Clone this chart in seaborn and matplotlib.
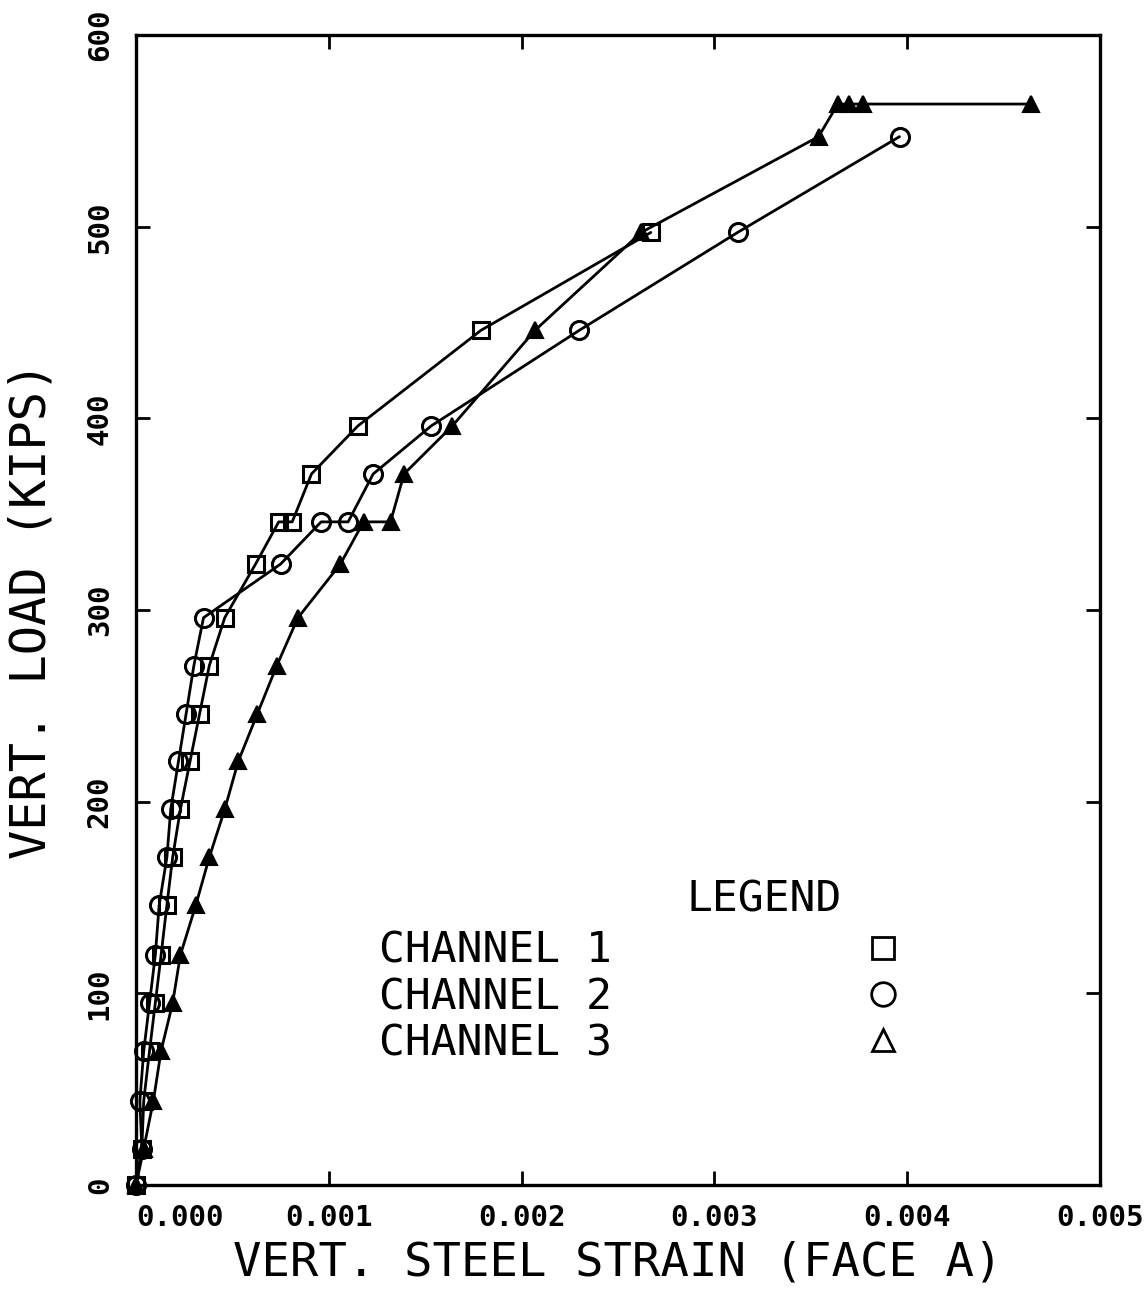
import numpy as np
import pandas as pd
import matplotlib
matplotlib.use("Agg")
import matplotlib.pyplot as plt
import seaborn as sns
from matplotlib.lines import Line2D

# ---- data (strain, load in kips) ----
ch1_strain = [0.0, 0.00003, 0.00004, 0.00007, 0.00010, 0.00013, 0.00016, 0.00019,
              0.00023, 0.00028, 0.00033, 0.00038, 0.00046, 0.00062, 0.00074,
              0.00081, 0.00091, 0.00115, 0.00179, 0.00267]
ch1_load = [0, 19, 44, 70, 95, 120, 146, 171, 196, 221, 246, 271, 296, 324, 346,
            346, 371, 396, 446, 497]

ch2_strain = [0.0, 0.00003, 0.00002, 0.00004, 0.00007, 0.00010, 0.00012, 0.00016,
              0.00018, 0.00022, 0.00026, 0.00030, 0.00035, 0.00075, 0.00096,
              0.00110, 0.00123, 0.00153, 0.00230, 0.00312, 0.00396]
ch2_load = [0, 19, 44, 70, 95, 120, 146, 171, 196, 221, 246, 271, 296, 324, 346,
            346, 371, 396, 446, 497, 547]

ch3_strain = [0.0, 0.00004, 0.00009, 0.00013, 0.00019, 0.00023, 0.00031, 0.00038,
              0.00046, 0.00053, 0.00063, 0.00073, 0.00084, 0.00106, 0.00118,
              0.00132, 0.00139, 0.00164, 0.00207, 0.00262, 0.00354, 0.00364,
              0.00370, 0.00377, 0.00464]
ch3_load = [0, 19, 44, 70, 95, 120, 146, 171, 196, 221, 246, 271, 296, 324, 346,
            346, 371, 396, 446, 497, 547, 564, 564, 564, 564]

channel_names = ["CHANNEL 1", "CHANNEL 2", "CHANNEL 3"]
x_ticks = [0.0, 0.001, 0.002, 0.003, 0.004, 0.005]
x_ticklabels = ["0.000", "0.001", "0.002", "0.003", "0.004", "0.005"]
y_ticks = [0, 100, 200, 300, 400, 500, 600]

df1 = pd.DataFrame({"strain": ch1_strain, "load": ch1_load})
df2 = pd.DataFrame({"strain": ch2_strain, "load": ch2_load})
df3 = pd.DataFrame({"strain": ch3_strain, "load": ch3_load})

sns.set_style("ticks")
plt.rcParams["font.family"] = ["DejaVu Sans Mono", "DejaVu Sans"]
plt.rcParams["text.color"] = "black"
plt.rcParams["axes.labelcolor"] = "black"
plt.rcParams["xtick.color"] = "black"
plt.rcParams["ytick.color"] = "black"

fig = plt.figure(figsize=(11.46, 12.93), dpi=100)
ax = fig.add_axes([0.1187, 0.0835, 0.8412, 0.8894])

lw = 2.0
sns.lineplot(data=df1, x="strain", y="load", ax=ax, estimator=None, sort=False,
             color="black", lw=lw, marker="s", markersize=12, mfc="none",
             mec="black", mew=2.2, clip_on=False)
sns.lineplot(data=df2, x="strain", y="load", ax=ax, estimator=None, sort=False,
             color="black", lw=lw, marker="o", markersize=13, mfc="none",
             mec="black", mew=2.2, clip_on=False)
sns.lineplot(data=df3, x="strain", y="load", ax=ax, estimator=None, sort=False,
             color="black", lw=lw, marker="^", markersize=12, mfc="black",
             mec="black", mew=1.5, clip_on=False)

ax.set_xlim(0, 0.005)
ax.set_ylim(0, 600)
ax.set_xticks(x_ticks)
ax.set_xticklabels(x_ticklabels, fontsize=21, fontweight="bold")
ax.set_yticks(y_ticks)
ax.set_yticklabels([str(v) for v in y_ticks], fontsize=21, fontweight="bold",
                   rotation=90, va="center")
ax.get_xticklabels()[0].set_ha("left")

ax.tick_params(axis="both", direction="in", length=10, width=2,
               top=True, right=True, colors="black")
ax.tick_params(axis="x", pad=14)
ax.tick_params(axis="y", pad=16)
for s in ax.spines.values():
    s.set_linewidth(2.4)
    s.set_color("black")

ax.set_xlabel("VERT. STEEL STRAIN (FACE A)", fontsize=34, labelpad=6)
ax.set_ylabel("VERT. LOAD (KIPS)", fontsize=35, labelpad=22)

# legend: text on the left, symbols on the right
handles = [
    Line2D([], [], ls="none", marker="s", markersize=16, mfc="none", mec="black", mew=2),
    Line2D([], [], ls="none", marker="o", markersize=17, mfc="none", mec="black", mew=2),
    Line2D([], [], ls="none", marker="^", markersize=16, mfc="none", mec="black", mew=2),
]
ax.text(0.652, 0.248, "LEGEND", transform=ax.transAxes, fontsize=31,
        ha="center", va="center")
ax.legend(handles, channel_names, loc="upper left",
          bbox_to_anchor=(0.252, 0.222), frameon=False, markerfirst=False,
          fontsize=31, handlelength=1.0, handletextpad=5.8, labelspacing=0.1,
          borderpad=0, borderaxespad=0)

fig.savefig("out.png", dpi=100)
